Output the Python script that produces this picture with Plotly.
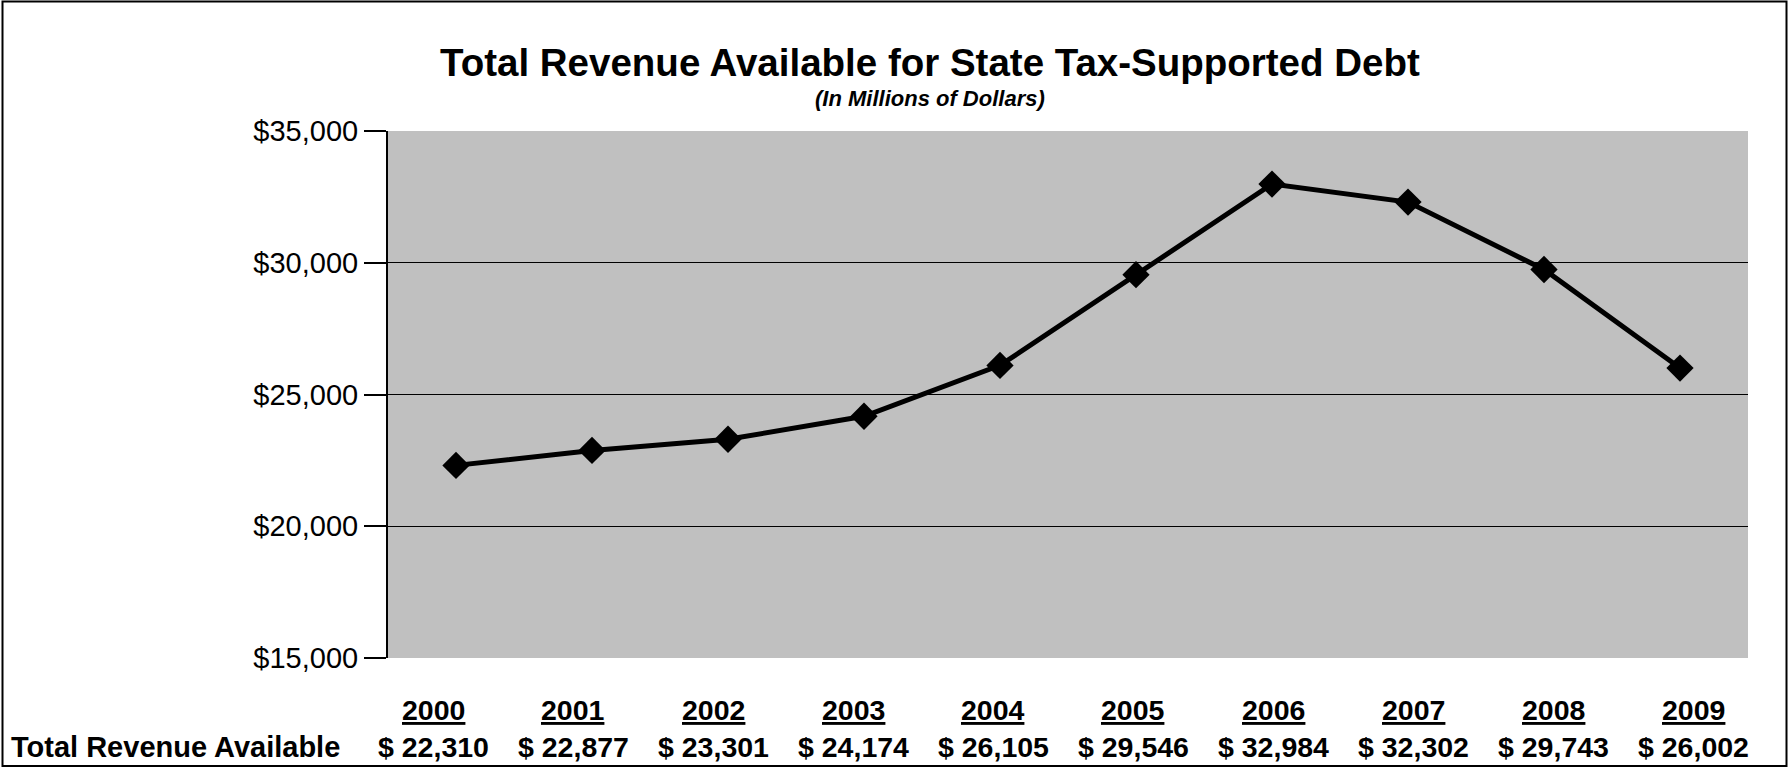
import plotly.graph_objects as go

years = ["2000", "2001", "2002", "2003", "2004", "2005", "2006", "2007", "2008", "2009"]
revenue = [22310, 22877, 23301, 24174, 26105, 29546, 32984, 32302, 29743, 26002]
row_label = "Total Revenue Available"
title_text = "Total Revenue Available for State Tax-Supported Debt"
subtitle_text = "(In Millions of Dollars)"
y_ticks = [15000, 20000, 25000, 30000, 35000]
y_tick_labels = ["$15,000", "$20,000", "$25,000", "$30,000", "$35,000"]

W, H = 1789, 769
L, R, T, B = 388, 41, 131, 111
PW, PH = W - L - R, H - T - B

def px_x(px):
    return (px - L) / PW

def px_y(py):
    return (H - B - py) / PH

FONT = "Arial, Liberation Sans, sans-serif"

fig = go.Figure()
fig.add_trace(go.Scatter(
    x=years, y=revenue, mode="lines+markers",
    line=dict(color="black", width=5),
    marker=dict(symbol="diamond", size=21, color="black"),
    showlegend=False, cliponaxis=False,
))

annotations = [
    dict(text="<b>" + title_text + "</b>", x=px_x(930), y=px_y(62), xref="paper", yref="paper",
         showarrow=False, xanchor="center", yanchor="middle", font=dict(size=38.5, color="black", family=FONT)),
    dict(text="<b><i>" + subtitle_text + "</i></b>", x=px_x(930), y=px_y(99), xref="paper", yref="paper",
         showarrow=False, xanchor="center", yanchor="middle", font=dict(size=22, color="black", family=FONT)),
    dict(text="<b>" + row_label + "</b>", x=px_x(9), y=px_y(747), xref="paper", yref="paper",
         showarrow=False, xanchor="left", yanchor="middle", font=dict(size=29, color="black", family=FONT)),
]
for i, (yr, v) in enumerate(zip(years, revenue)):
    cx = px_x(433 + 140 * i)
    annotations.append(dict(text="<b><u>" + yr + "</u></b>", x=cx, y=px_y(710), xref="paper", yref="paper",
                            showarrow=False, xanchor="center", yanchor="middle",
                            font=dict(size=28.5, color="black", family=FONT)))
    annotations.append(dict(text="<b>$ " + f"{v:,}" + "</b>", x=cx, y=px_y(747), xref="paper", yref="paper",
                            showarrow=False, xanchor="center", yanchor="middle",
                            font=dict(size=28.5, color="black", family=FONT)))

fig.update_layout(
    width=W, height=H,
    margin=dict(l=L, r=R, t=T, b=B, pad=0),
    paper_bgcolor="white", plot_bgcolor="#c0c0c0",
    font=dict(family=FONT, color="black"),
    annotations=annotations,
    shapes=[dict(type="rect", xref="paper", yref="paper",
                 x0=px_x(2.5), x1=px_x(1786.5), y0=px_y(766), y1=px_y(1.5),
                 line=dict(color="black", width=2), fillcolor="rgba(0,0,0,0)", layer="above")],
    xaxis=dict(type="category", range=[-0.5, 9.5], showticklabels=False, showgrid=False,
               zeroline=False, showline=False, ticks=""),
    yaxis=dict(range=[15000, 35000], tickvals=y_ticks, ticktext=y_tick_labels,
               showgrid=True, gridcolor="black", gridwidth=1, zeroline=False,
               showline=True, linecolor="black", linewidth=2,
               ticks="outside", ticklen=22, tickwidth=1.5, tickcolor="black",
               tickfont=dict(size=29, color="black", family=FONT)),
)

fig.write_html("out.html")
